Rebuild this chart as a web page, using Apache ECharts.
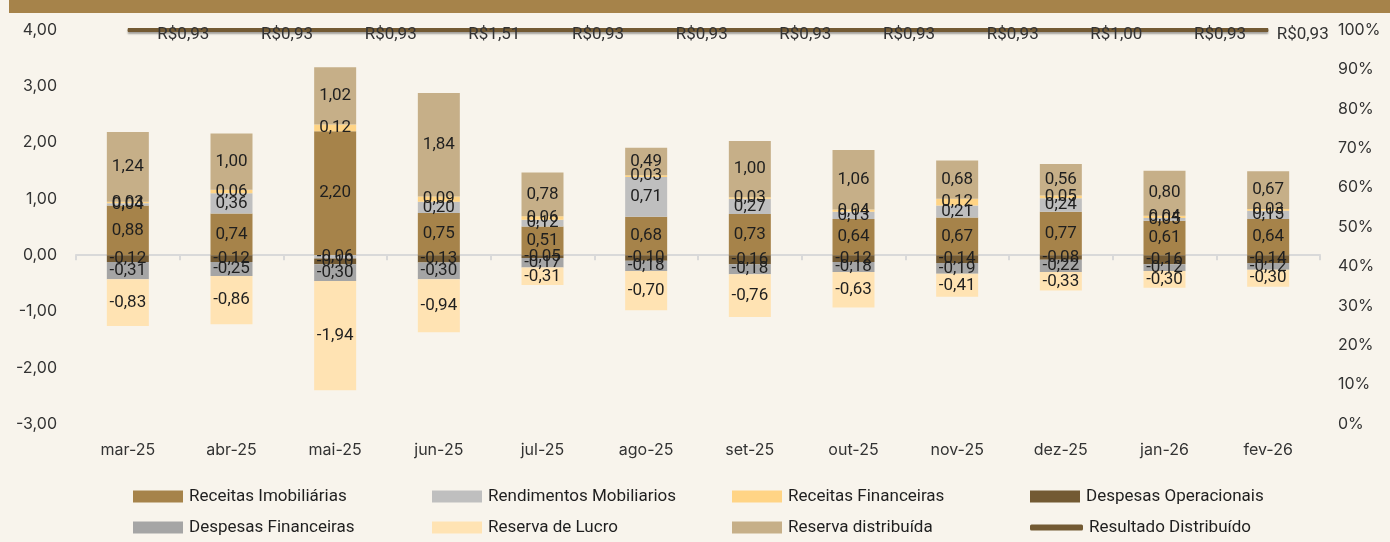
<!DOCTYPE html>
<html>
<head>
<meta charset="utf-8">
<script src="https://cdn.jsdelivr.net/npm/echarts@6/dist/echarts.min.js"></script>
<style>
  html, body { margin: 0; padding: 0; background: #f8f4ec; }
  #main { width: 1390px; height: 542px; }
</style>
</head>
<body>
<div id="main"></div>
<script>
const months = ["mar-25","abr-25","mai-25","jun-25","jul-25","ago-25","set-25","out-25","nov-25","dez-25","jan-26","fev-26"];
const receitasImob = [0.88, 0.74, 2.20, 0.75, 0.51, 0.68, 0.73, 0.64, 0.67, 0.77, 0.61, 0.64];
const rendMobiliarios = [0.04, 0.36, -0.06, 0.20, 0.12, 0.71, 0.27, 0.13, 0.21, 0.24, 0.05, 0.15];
const receitasFin = [0.03, 0.06, 0.12, 0.09, 0.06, 0.03, 0.03, 0.04, 0.12, 0.05, 0.04, 0.03];
const despesasOper = [-0.12, -0.12, -0.10, -0.13, -0.05, -0.10, -0.16, -0.12, -0.14, -0.08, -0.16, -0.14];
const despesasFin = [-0.31, -0.25, -0.30, -0.30, -0.17, -0.18, -0.18, -0.18, -0.19, -0.22, -0.12, -0.12];
const reservaLucro = [-0.83, -0.86, -1.94, -0.94, -0.31, -0.70, -0.76, -0.63, -0.41, -0.33, -0.30, -0.30];
const reservaDistrib = [1.24, 1.00, 1.02, 1.84, 0.78, 0.49, 1.00, 1.06, 0.68, 0.56, 0.80, 0.67];
const distribuido = [0.93, 0.93, 0.93, 1.51, 0.93, 0.93, 0.93, 0.93, 0.93, 1.00, 0.93, 0.93];

const fmt = v => v.toFixed(2).replace('.', ',');
const textColor = '#1f1f1f';
const font = 'Roboto';

let myChart = echarts.init(document.getElementById('main'));

function barSeries(name, data, color) {
    return {
        name: name,
        type: 'bar',
        stack: 'total',
        barWidth: 42,
        data: data,
        itemStyle: { color: color },
        label: {
            show: true,
            position: 'inside',
            color: textColor,
            fontFamily: font,
            fontSize: 17,
            formatter: p => fmt(p.value)
        }
    };
}

// linha no topo (100% do eixo direito), rótulos com o valor distribuído
const lastIdx = distribuido.length - 1;
const lineData = distribuido.map((v, i) => ({
    value: 1,
    label: i === lastIdx ? { distance: 8 } : undefined
}));

const legendItems = [
    { name: 'Receitas Imobiliárias', left: 133, top: 483 },
    { name: 'Rendimentos Mobiliarios', left: 432, top: 483 },
    { name: 'Receitas Financeiras', left: 732, top: 483 },
    { name: 'Despesas Operacionais', left: 1030, top: 483 },
    { name: 'Despesas Financeiras', left: 133, top: 514 },
    { name: 'Reserva de Lucro', left: 432, top: 514 },
    { name: 'Reserva distribuída', left: 732, top: 514 },
    { name: 'Resultado Distribuído', left: 1030, top: 514, line: true }
];

let option = {
    backgroundColor: '#f8f4ec',
    animation: false,
    graphic: [{
        type: 'rect',
        shape: { x: 9, y: 0, width: 1381, height: 13 },
        style: { fill: '#a6834a' }
    }],
    legend: legendItems.map(it => ({
        data: [it.name],
        left: it.left - 5,
        top: it.top,
        icon: it.line ? 'roundRect' : 'rect',
        itemWidth: it.line ? 53 : 50,
        itemHeight: it.line ? 6 : 12,
        textStyle: { color: textColor, fontFamily: font, fontSize: 17, padding: [0, 0, 0, 1] }
    })),
    grid: { left: 76, right: 70, top: 30, bottom: 118 },
    xAxis: [
        {
            type: 'category',
            data: months,
            axisLine: { show: false, onZero: false },
            axisTick: { show: false },
            axisLabel: { color: '#333', fontFamily: 'Inter', fontSize: 16, margin: 18 }
        },
        {
            type: 'category',
            data: months,
            position: 'bottom',
            axisLine: { show: true, onZero: true, onZeroAxisIndex: 0, lineStyle: { color: '#d9d9d9', width: 2 } },
            axisTick: { show: true, length: 5, lineStyle: { color: '#d9d9d9', width: 2 } },
            axisLabel: { show: false }
        }
    ],
    yAxis: [
        {
            type: 'value',
            min: -3, max: 4, interval: 1,
            splitLine: { show: false },
            axisLine: { show: false },
            axisLabel: { color: '#333', fontFamily: 'Inter', fontSize: 16, margin: 19, formatter: v => fmt(v) }
        },
        {
            type: 'value',
            min: 0, max: 1, interval: 0.1,
            position: 'right',
            splitLine: { show: false },
            axisLine: { show: false },
            axisLabel: { color: '#333', fontFamily: 'Inter', fontSize: 16, margin: 18, formatter: v => Math.round(v * 100) + '%' }
        }
    ],
    series: [
        barSeries('Receitas Imobiliárias', receitasImob, '#a6834a'),
        barSeries('Rendimentos Mobiliarios', rendMobiliarios, '#bfbfbf'),
        barSeries('Receitas Financeiras', receitasFin, '#ffd485'),
        barSeries('Despesas Operacionais', despesasOper, '#735a33'),
        barSeries('Despesas Financeiras', despesasFin, '#a5a5a5'),
        barSeries('Reserva de Lucro', reservaLucro, '#ffe3b3'),
        barSeries('Reserva distribuída', reservaDistrib, '#c6af88'),
        {
            name: 'Resultado Distribuído',
            type: 'line',
            yAxisIndex: 1,
            data: lineData,
            showSymbol: true,
            symbol: 'circle',
            symbolSize: 1,
            clip: false,
            z: 5,
            itemStyle: { color: '#735a33' },
            lineStyle: {
                color: '#735a33', width: 4,
                shadowColor: 'rgba(0,0,0,0.35)', shadowOffsetY: 2, shadowBlur: 2
            },
            label: {
                show: true,
                position: 'right',
                distance: 29,
                offset: [0, 5],
                color: '#333',
                fontFamily: font,
                fontSize: 17,
                formatter: p => 'R$' + fmt(distribuido[p.dataIndex])
            }
        }
    ]
};
myChart.setOption(option);
</script>
</body>
</html>
